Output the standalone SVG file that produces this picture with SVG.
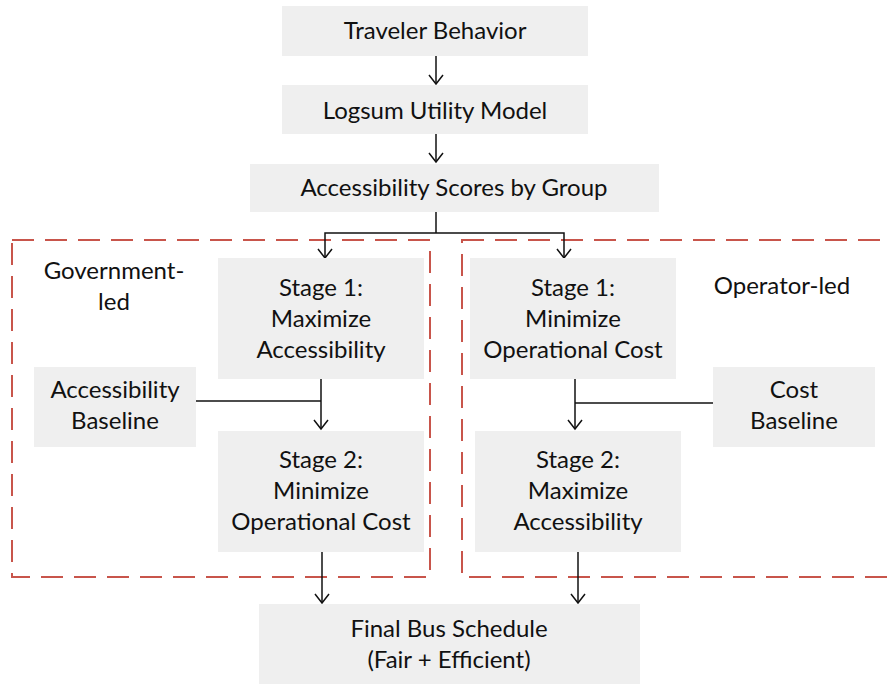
<svg xmlns="http://www.w3.org/2000/svg" width="890" height="684" viewBox="0 0 890 684">
  <style>
    .box { fill: #efefef; }
    .lbl { font-family: Lato, "Open Sans", "Liberation Sans", sans-serif; font-size: 24px; fill: #111; text-anchor: middle; }
    .wire { fill: none; stroke: #111; stroke-width: 1.5; }
    .frame { fill: none; stroke: #c8554b; stroke-width: 2; stroke-dasharray: 22 11; }
  </style>
  <defs>
    <!-- open V arrowhead, drawn along +x so orient="auto" points it down the line -->
    <marker id="arrow" markerUnits="userSpaceOnUse" markerWidth="14" markerHeight="18" viewBox="-11 -9 13 18" refX="0" refY="0" orient="auto-start-reverse">
      <path d="M -9 -7 L 0 0 L -9 7" fill="none" stroke="#111" stroke-width="1.5"/>
    </marker>
  </defs>

  <rect width="890" height="684" fill="#ffffff"/>

  <!-- dashed group frames -->
  <g id="frame-government">
    <rect class="frame" x="12" y="240" width="418" height="337"/>
    <text class="lbl" x="114" y="279">Government-</text>
    <text class="lbl" x="114" y="310">led</text>
  </g>
  <g id="frame-operator">
    <rect class="frame" x="462" y="240" width="440" height="337"/>
    <text class="lbl" x="782" y="294">Operator-led</text>
  </g>

  <!-- connectors -->
  <g id="connectors">
    <line class="wire" x1="436" y1="56" x2="436" y2="84" marker-end="url(#arrow)"/>
    <line class="wire" x1="436" y1="134" x2="436" y2="162" marker-end="url(#arrow)"/>
    <polyline class="wire" points="436,212 436,233"/>
    <polyline class="wire" points="325,258 325,233 564,233 564,258" marker-start="url(#arrow)" marker-end="url(#arrow)"/>
    <line class="wire" x1="321" y1="379" x2="321" y2="429" marker-end="url(#arrow)"/>
    <line class="wire" x1="196" y1="401" x2="321" y2="401"/>
    <line class="wire" x1="575" y1="379" x2="575" y2="429" marker-end="url(#arrow)"/>
    <line class="wire" x1="713" y1="403" x2="575" y2="403"/>
    <line class="wire" x1="322" y1="551" x2="322" y2="603" marker-end="url(#arrow)"/>
    <line class="wire" x1="578" y1="551" x2="578" y2="603" marker-end="url(#arrow)"/>
  </g>

  <g id="traveler-behavior">
    <rect class="box" x="282" y="6" width="306" height="50"/>
    <text class="lbl" x="435" y="39">Traveler Behavior</text>
  </g>
  <g id="logsum-utility-model">
    <rect class="box" x="282" y="85" width="306" height="49"/>
    <text class="lbl" x="435" y="119">Logsum Utility Model</text>
  </g>
  <g id="accessibility-scores">
    <rect class="box" x="250" y="164" width="409" height="48"/>
    <text class="lbl" x="454" y="196">Accessibility Scores by Group</text>
  </g>

  <g id="gov-stage1">
    <rect class="box" x="218" y="258" width="206" height="121"/>
    <text class="lbl" x="321" y="296">Stage 1:</text>
    <text class="lbl" x="321" y="327">Maximize</text>
    <text class="lbl" x="321" y="358">Accessibility</text>
  </g>
  <g id="accessibility-baseline">
    <rect class="box" x="34" y="367" width="162" height="80"/>
    <text class="lbl" x="115" y="398">Accessibility</text>
    <text class="lbl" x="115" y="429">Baseline</text>
  </g>
  <g id="gov-stage2">
    <rect class="box" x="218" y="431" width="206" height="121"/>
    <text class="lbl" x="321" y="468">Stage 2:</text>
    <text class="lbl" x="321" y="499">Minimize</text>
    <text class="lbl" x="321" y="530">Operational Cost</text>
  </g>

  <g id="op-stage1">
    <rect class="box" x="470" y="258" width="206" height="121"/>
    <text class="lbl" x="573" y="296">Stage 1:</text>
    <text class="lbl" x="573" y="327">Minimize</text>
    <text class="lbl" x="573" y="358">Operational Cost</text>
  </g>
  <g id="cost-baseline">
    <rect class="box" x="713" y="367" width="162" height="80"/>
    <text class="lbl" x="794" y="398">Cost</text>
    <text class="lbl" x="794" y="429">Baseline</text>
  </g>
  <g id="op-stage2">
    <rect class="box" x="475" y="431" width="206" height="121"/>
    <text class="lbl" x="578" y="468">Stage 2:</text>
    <text class="lbl" x="578" y="499">Maximize</text>
    <text class="lbl" x="578" y="530">Accessibility</text>
  </g>

  <g id="final-bus-schedule">
    <rect class="box" x="259" y="604" width="381" height="80"/>
    <text class="lbl" x="449" y="637">Final Bus Schedule</text>
    <text class="lbl" x="449" y="668">(Fair + Efficient)</text>
  </g>
</svg>
